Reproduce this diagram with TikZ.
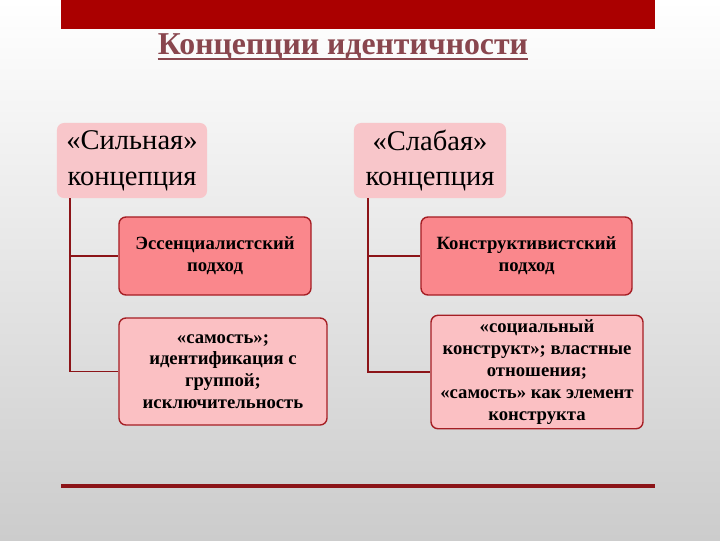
\documentclass[tikz,border=0pt]{standalone}
\usepackage{fontspec}
\setmainfont{Liberation Serif}
\usepackage{tikz}
\usetikzlibrary{shapes,arrows}
\definecolor{barred}{RGB}{170,0,0}
\definecolor{titlered}{RGB}{137,70,78}
\definecolor{linered}{RGB}{140,20,24}
\definecolor{boxedge}{RGB}{165,30,36}
\definecolor{palepink}{RGB}{248,198,202}
\definecolor{salmon}{RGB}{250,135,140}
\definecolor{lightpink}{RGB}{251,192,195}

\begin{document}
\begin{tikzpicture}[x=0.025cm,y=-0.025cm]
	\useasboundingbox (0,0) rectangle (720,540);
	\shade[top color=white,bottom color=black!20] (0,0) rectangle (720,540);
	\fill[barred] (61,0) rectangle (655,29);
	
	\tikzstyle{concept} = [rectangle,rounded corners=5pt,fill=palepink,minimum width=3.75cm,minimum height=1.875cm,align=center,font=\fontsize{20.3}{25.5}\selectfont]
	\tikzstyle{approach} = [rectangle,rounded corners=5pt,draw=boxedge,line width=1pt,fill=salmon,align=center,minimum height=1.95cm,font=\bfseries\fontsize{13.3}{15.5}\selectfont]
	\tikzstyle{detail} = [approach,fill=lightpink]
	\tikzstyle{edge} = [linered,line width=1.4pt]
	
	%title
	\node[text=titlered,inner sep=0pt,font=\bfseries\fontsize{22.6}{26}\selectfont] (title) at (343,47) {Концепции идентичности};
	\draw[titlered,line width=1.6pt] ([yshift=-3pt]title.base west) -- ([yshift=-3pt]title.base east);
	
	%strong
	\node[concept] (S1) at (132,160.5) {«Сильная»\\концепция};
	\node[approach,minimum width=4.8cm] (S2) at (215,256) {Эссенциалистский\\подход};
	\node[detail,minimum width=5.2cm,minimum height=2.675cm] (S3) at (223,371.5) {«самость»;\\идентификация с\\группой;\\исключительность};
	\draw[edge] ([xshift=0.325cm]S1.south west) |- (S2.west);
	\draw[edge] ([xshift=0.325cm]S1.south west) |- (S3.west);
	
	%weak
	\node[concept,minimum width=3.8cm] (W1) at (430,160.5) {«Слабая»\\концепция};
	\node[approach,minimum width=5.275cm] (W2) at (526.5,256) {Конструктивистский\\подход};
	\node[detail,minimum width=5.3cm,minimum height=2.8cm] (W3) at (537,372) {«социальный\\конструкт»; властные\\отношения;\\«самость» как элемент\\конструкта};
	\draw[edge] ([xshift=0.35cm]W1.south west) |- (W2.west);
	\draw[edge] ([xshift=0.35cm]W1.south west) |- (W3.west);
	
	\draw[linered,line width=2.4pt] (61,486) -- (655,486);
\end{tikzpicture}
\end{document}
